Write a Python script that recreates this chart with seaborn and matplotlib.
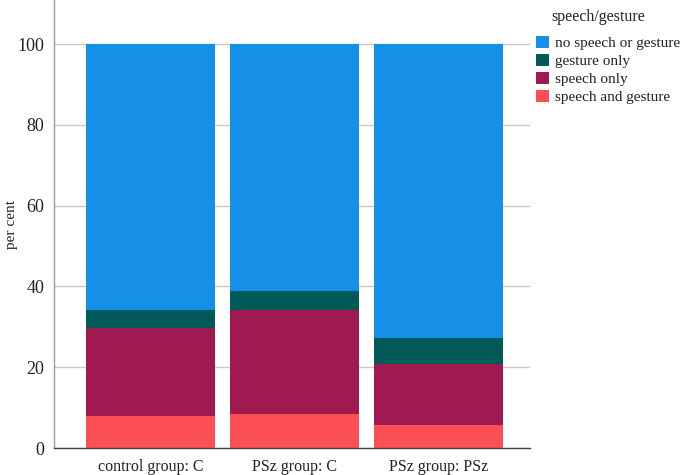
import matplotlib
matplotlib.use("Agg")
import matplotlib.pyplot as plt
from matplotlib.patches import Patch
import seaborn as sns
import pandas as pd
import numpy as np

groups = ["control group: C", "PSz group: C", "PSz group: PSz"]
categories = ["no speech or gesture", "gesture only", "speech only", "speech and gesture"]
speech_and_gesture = [8.0, 8.4, 5.7]
speech_only = [21.8, 25.8, 15.1]
gesture_only = [4.4, 4.6, 6.4]
no_speech_or_gesture = [65.8, 61.2, 72.8]
colors = ["#1491e6", "#025a58", "#9e1a50", "#fb4f55"]

sns.set_theme(style="white")
plt.rcParams["font.family"] = ["Liberation Serif", "DejaVu Serif"]

df = pd.DataFrame({
    "group": groups,
    "speech and gesture": speech_and_gesture,
    "speech only": speech_only,
    "gesture only": gesture_only,
    "no speech or gesture": no_speech_or_gesture,
})
# cumulative stacks, bottom to top
df["c1"] = df["speech and gesture"]
df["c2"] = df["c1"] + df["speech only"]
df["c3"] = df["c2"] + df["gesture only"]
df["c4"] = df["c3"] + df["no speech or gesture"]

fig = plt.figure(figsize=(6.85, 4.75), dpi=100)
ax = fig.add_axes([0.0788, 0.0568, 0.695, 0.9432])

for col, colr in zip(["c4", "c3", "c2", "c1"], colors):
    sns.barplot(data=df, x="group", y=col, color=colr, width=0.9, ax=ax,
                saturation=1, edgecolor="none", linewidth=0, zorder=2)

ax.set_ylim(0, 110.9)
ax.set_xlim(-0.67, 2.635)
ax.set_yticks([0, 20, 40, 60, 80, 100])
ax.yaxis.grid(True, color="#c8c8c8", linewidth=1.0, zorder=0)
ax.set_axisbelow(True)
ax.tick_params(axis="x", length=0, labelsize=11.5, colors="#222222", pad=8)
ax.tick_params(axis="y", length=0, labelsize=13, colors="#222222", pad=7)
ax.set_xlabel("")
ax.set_ylabel("")
fig.text(11 / 685, 1 - 224 / 475, "per cent", rotation=90, fontsize=11,
         ha="center", va="center", color="#222222")
for s in ["top", "right"]:
    ax.spines[s].set_visible(False)
ax.spines["left"].set_color("#999999")
ax.spines["bottom"].set_color("#444444")
ax.spines["left"].set_linewidth(1.0)
ax.spines["bottom"].set_linewidth(1.0)

handles = [Patch(facecolor=c, edgecolor="none") for c in colors]
fig.text(551 / 685, 1 - 17 / 475, "speech/gesture", fontsize=11.4,
         ha="left", va="center", color="#222222")
fig.legend(handles, categories, loc="upper left",
           bbox_to_anchor=(525 / 685, 1 - 25 / 475), frameon=False,
           fontsize=11.0, handlelength=0.9, handleheight=0.85,
           handletextpad=0.35, labelspacing=0.24, borderpad=0.2,
           labelcolor="#222222")

fig.savefig("out.png", dpi=100)
